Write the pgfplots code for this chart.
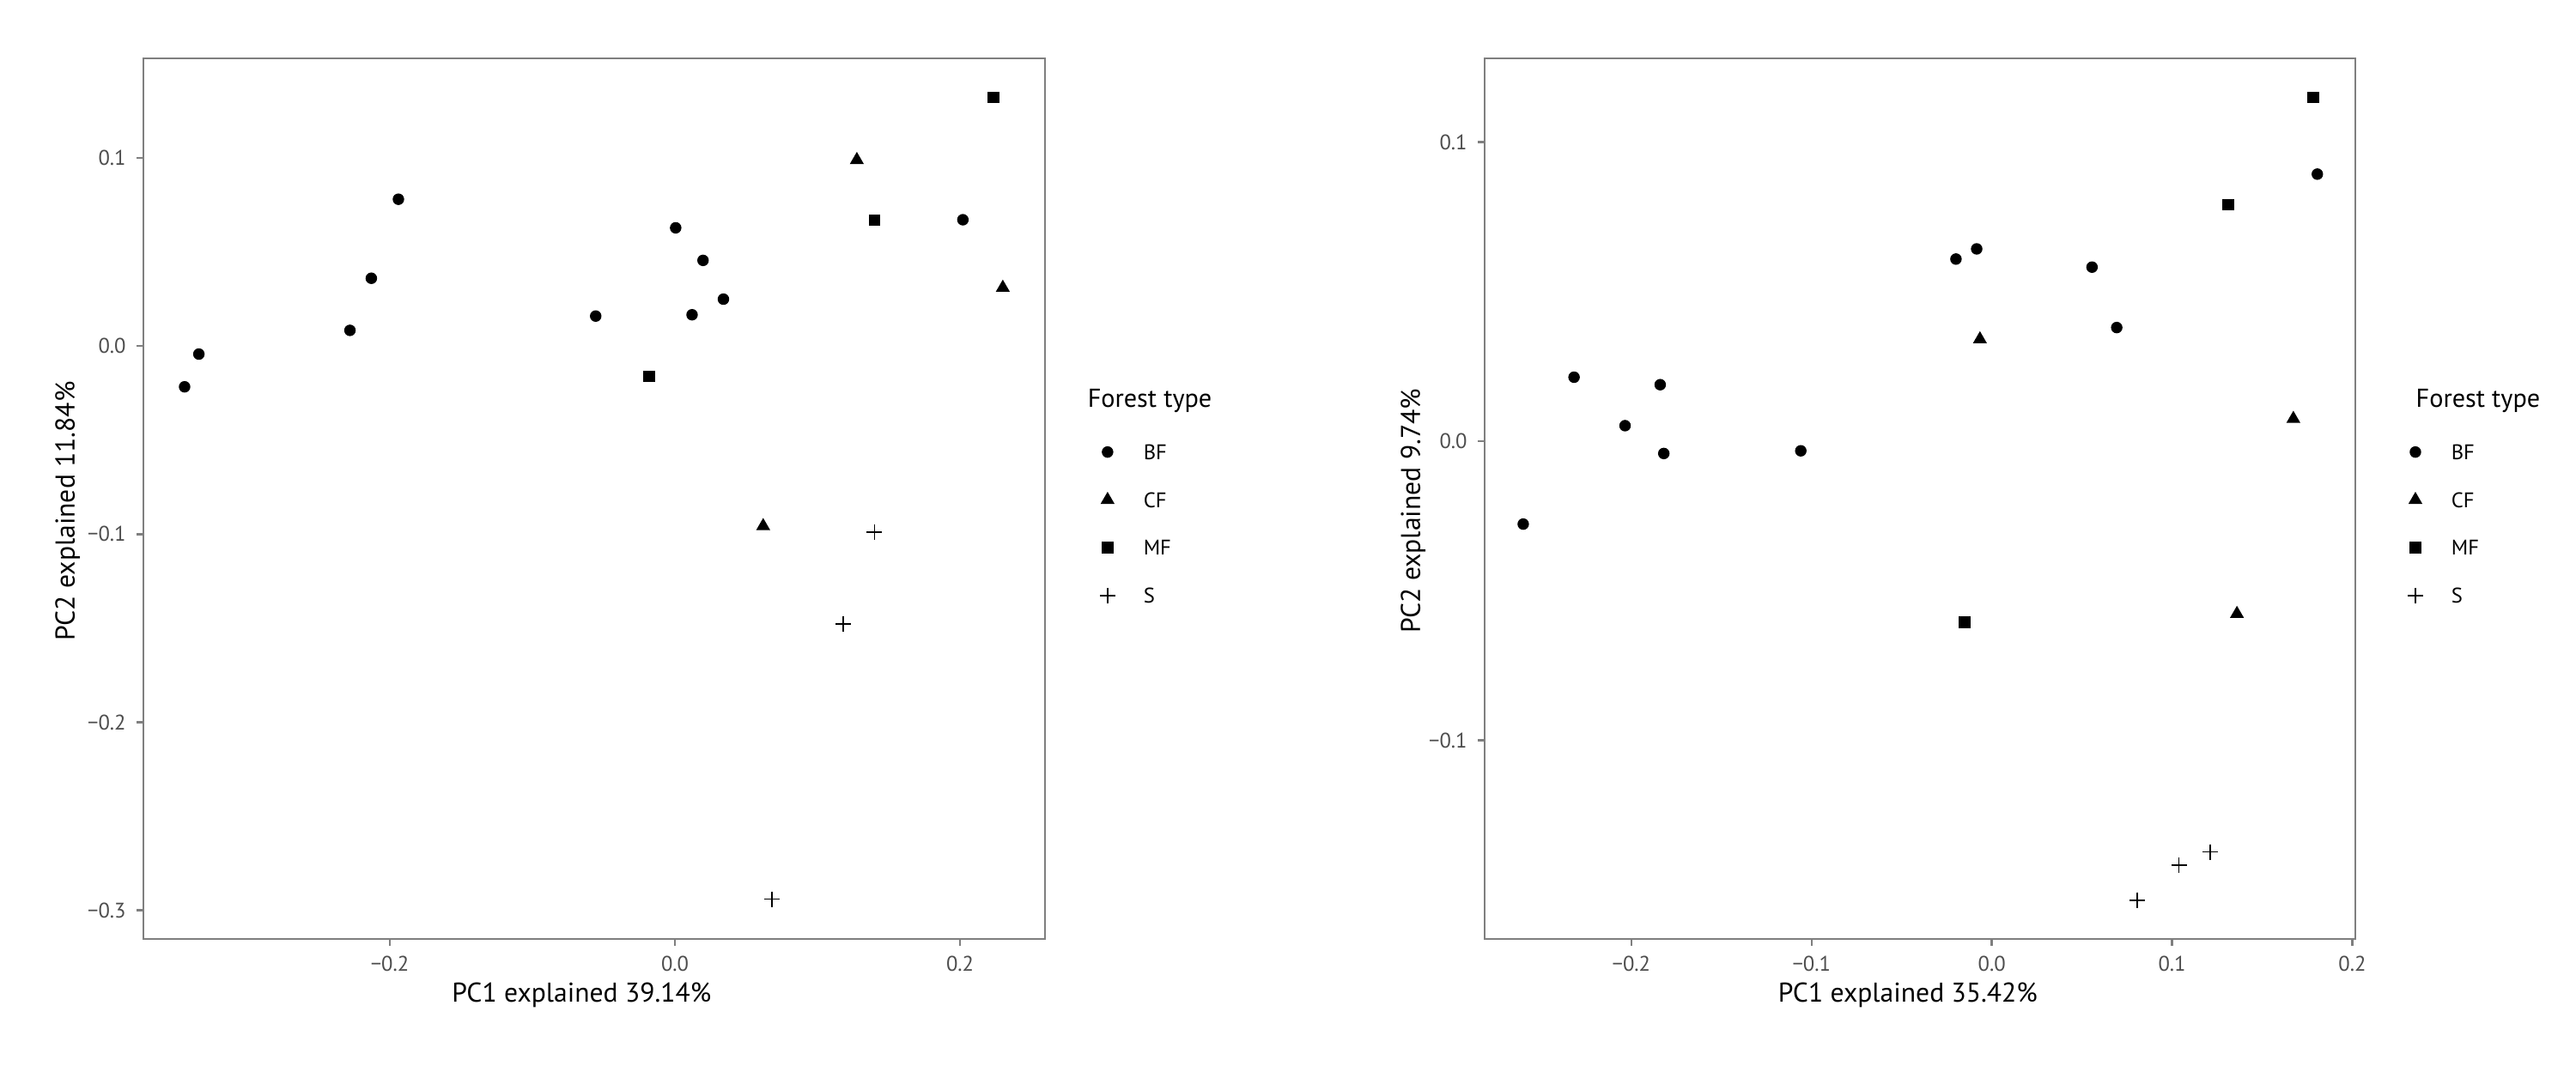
\documentclass[border=0pt]{standalone}
\usepackage{fontspec}
\setmainfont{PT Sans}
\usepackage{pgfplots}
\pgfplotsset{compat=1.18}

\definecolor{frame}{HTML}{7F7F7F}
\definecolor{ticktext}{HTML}{4D4D4D}

\pgfplotsset{
  pca/.style={
    scale only axis,
    clip mode=individual,
    height=102.6mm,
    axis line style={frame, line width=0.25mm},
    tick align=outside,
    xtick pos=lower, ytick pos=left,
    major tick length=0.8mm,
    tick style={frame, line width=0.25mm},
    ticklabel style={font=\fontsize{7}{8}\selectfont, text=ticktext},
    label style={font=\fontsize{9}{10}\selectfont},
    xlabel style={at={(axis description cs:0.486,-0.0712)}, anchor=base},
    legend cell align=left,
    legend image code/.code={
      \draw[##1] plot coordinates {(0mm,0mm)};
      \path (-1mm,-2.715mm) (1mm,2.715mm);
    },
    legend style={draw=none, fill=none, inner sep=0pt, outer sep=0pt,
      anchor=north west, font=\fontsize{7}{8}\selectfont,
      nodes={inner sep=0pt, text depth=0pt, anchor=west},
      /tikz/column sep=3.1mm, /tikz/row sep=0pt},
  },
  bf/.style={only marks, mark=*, mark size=0.6mm, black},
  cf/.style={only marks, mark=triangle*, mark size=0.8mm, black},
  mf/.style={only marks, mark=square*, mark size=0.6mm, black},
  sp/.style={only marks, mark=+, mark size=0.9mm, black, line width=0.18mm},
}

\begin{document}
\begin{tikzpicture}
\useasboundingbox (0,0) rectangle (300mm,124.2mm);

% first ordination
\begin{axis}[pca,
  at={(16.7mm,14.8mm)}, anchor=south west,
  width=105.0mm,
  xmin=-0.3729, xmax=0.2596,
  ymin=-0.3152, ymax=0.1529,
  xtick={-0.2,0,0.2}, xticklabels={−0.2,0.0,0.2},
  ytick={-0.3,-0.2,-0.1,0,0.1}, yticklabels={−0.3,−0.2,−0.1,0.0,0.1},
  xlabel={PC1 explained 39.14\%},
  ylabel={PC2 explained 11.84\%},
  ylabel style={at={(axis description cs:-0.0762,0.486)}, anchor=base},
  legend style={at={(1.059,0.5801)}},
]
\addplot[bf] coordinates {(-0.344,-0.0217) (-0.334,-0.0043) (-0.228,0.0083)
  (-0.213,0.036) (-0.194,0.078) (-0.0556,0.0159) (0.0005,0.0628)
  (0.0197,0.0455) (0.012,0.0166) (0.034,0.0249) (0.202,0.0671)};
\addlegendentry{BF}
\addplot[cf] coordinates {(0.1276,0.0989) (0.230,0.031) (0.0619,-0.0957)};
\addlegendentry{CF}
\addplot[mf] coordinates {(0.2235,0.132) (0.140,0.0668) (-0.0182,-0.0162)};
\addlegendentry{MF}
\addplot[sp] coordinates {(0.140,-0.0989) (0.118,-0.1477) (0.068,-0.294)};
\addlegendentry{S}
\node[anchor=base west, font=\fontsize{8.6}{10}\selectfont, inner sep=0pt]
  at (axis description cs:1.0467,0.6033) {Forest type};
\end{axis}

% second ordination
\begin{axis}[pca,
  at={(172.9mm,14.8mm)}, anchor=south west,
  width=101.4mm,
  xmin=-0.2814, xmax=0.2017,
  ymin=-0.1664, ymax=0.128,
  xtick={-0.2,-0.1,0,0.1,0.2}, xticklabels={−0.2,−0.1,0.0,0.1,0.2},
  ytick={-0.1,0,0.1}, yticklabels={−0.1,0.0,0.1},
  xlabel={PC1 explained 35.42\%},
  ylabel={PC2 explained 9.74\%},
  ylabel style={at={(axis description cs:-0.0740,0.486)}, anchor=base},
  legend style={at={(1.0582,0.5801)}},
]
\addplot[bf] coordinates {(-0.260,-0.0277) (-0.2318,0.0214) (-0.2035,0.0052)
  (-0.184,0.0189) (-0.182,-0.0041) (-0.106,-0.0032) (-0.0199,0.0609)
  (-0.0084,0.0643) (0.0556,0.0582) (0.0693,0.038) (0.1806,0.0893)};
\addlegendentry{BF}
\addplot[cf] coordinates {(-0.0066,0.0341) (0.1673,0.0075) (0.136,-0.0577)};
\addlegendentry{CF}
\addplot[mf] coordinates {(0.1784,0.115) (0.1311,0.0791) (-0.015,-0.0605)};
\addlegendentry{MF}
\addplot[sp] coordinates {(0.0808,-0.1534) (0.1038,-0.1418) (0.121,-0.1373)};
\addlegendentry{S}
\node[anchor=base west, font=\fontsize{8.6}{10}\selectfont, inner sep=0pt]
  at (axis description cs:1.069,0.6033) {Forest type};
\end{axis}
\end{tikzpicture}
\end{document}
